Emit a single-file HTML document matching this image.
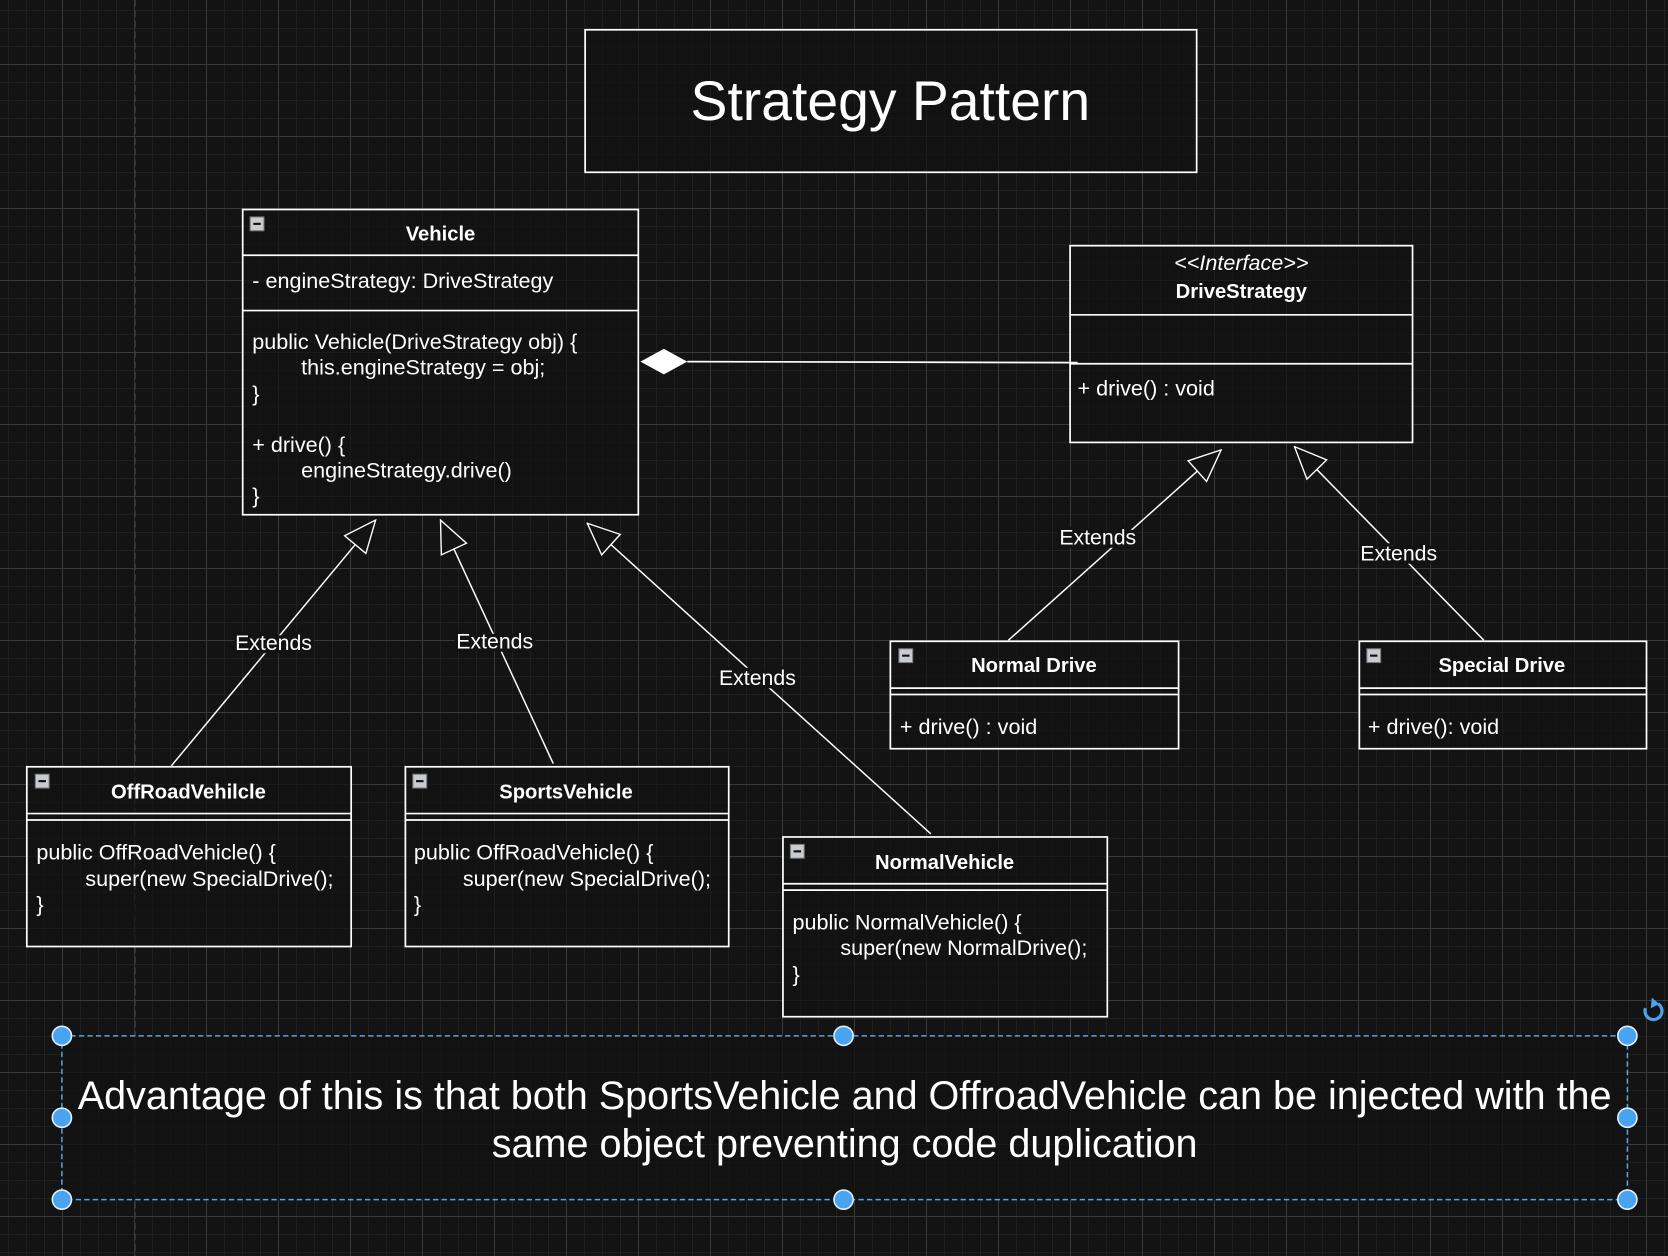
<!DOCTYPE html>
<html><head><meta charset="utf-8"><style>
html,body{margin:0;padding:0;}
body{width:1668px;height:1256px;overflow:hidden;background-color:#131313;
background-image:
linear-gradient(#3a3a3a 0 1px,transparent 1px),
linear-gradient(90deg,#3a3a3a 0 1px,transparent 1px),
linear-gradient(#202020 0 1px,transparent 1px),
linear-gradient(90deg,#202020 0 1px,transparent 1px);
background-size:72px 72px,72px 72px,18px 18px,18px 18px;
background-position:0 64px,62px 0,0 10px,8px 0;}
svg{position:absolute;left:0;top:0;}
text{font-family:"Liberation Sans",Arial,sans-serif;fill:#fff;}
.b{font-weight:bold;font-size:19px;}
.lbl{paint-order:stroke;stroke:#131313;stroke-width:6px;}
</style></head><body>
<svg width="1668" height="1256" viewBox="0 0 1568 1181" xmlns="http://www.w3.org/2000/svg">
<defs>
<marker id="tri" viewBox="0 0 32 28" refX="31" refY="14" markerWidth="32" markerHeight="28" markerUnits="userSpaceOnUse" orient="auto">
<path d="M1,1 L31,14 L1,27 Z" fill="#131313" stroke="#fff" stroke-width="1.3"/>
</marker>
<g id="mi"><rect x="0" y="0" width="13" height="13" fill="#c8cbd0" stroke="#777" stroke-width="1"/><rect x="3" y="5.5" width="7" height="2" fill="#111"/></g>
</defs>
<line x1="127" y1="0" x2="127" y2="1181" stroke="#3a3a3a" stroke-dasharray="6 4"/>
<g fill="rgba(19,19,19,0.75)" stroke="#fff" stroke-width="1.6">
<rect x="550" y="28" width="575" height="134"/>
<rect x="228" y="197" width="372" height="287"/>
<rect x="1006" y="231" width="322" height="185"/>
<rect x="837" y="603" width="271" height="101"/>
<rect x="1278" y="603" width="270" height="101"/>
<rect x="25" y="721" width="305" height="169"/>
<rect x="381" y="721" width="304" height="169"/>
<rect x="736" y="787" width="305" height="169"/>
</g>
<g stroke="#fff" stroke-width="1.6">
<line x1="228" y1="240" x2="600" y2="240"/><line x1="228" y1="292" x2="600" y2="292"/>
<line x1="1006" y1="296" x2="1328" y2="296"/><line x1="1006" y1="342" x2="1328" y2="342"/>
<line x1="837" y1="647" x2="1108" y2="647"/><line x1="837" y1="653" x2="1108" y2="653"/>
<line x1="1278" y1="647" x2="1548" y2="647"/><line x1="1278" y1="653" x2="1548" y2="653"/>
<line x1="25" y1="765" x2="330" y2="765"/><line x1="25" y1="771" x2="330" y2="771"/>
<line x1="381" y1="765" x2="685" y2="765"/><line x1="381" y1="771" x2="685" y2="771"/>
<line x1="736" y1="831" x2="1041" y2="831"/><line x1="736" y1="837" x2="1041" y2="837"/>
</g>
<use href="#mi" x="235" y="204"/><use href="#mi" x="845" y="610"/><use href="#mi" x="1285" y="610"/>
<use href="#mi" x="33" y="728"/><use href="#mi" x="388" y="728"/><use href="#mi" x="743" y="794"/>
<text x="837" y="113" font-size="52" text-anchor="middle">Strategy Pattern</text>
<g font-size="20.3">
<text x="414" y="226" text-anchor="middle" class="b">Vehicle</text>
<text x="237" y="271">- engineStrategy: DriveStrategy</text>
<text x="237" y="328">public Vehicle(DriveStrategy obj) {</text>
<text x="283" y="352">this.engineStrategy = obj;</text>
<text x="237" y="377">}</text>
<text x="237" y="425">+ drive() {</text>
<text x="283" y="449">engineStrategy.drive()</text>
<text x="237" y="473">}</text>
<text x="1167" y="254" text-anchor="middle" font-style="italic">&lt;&lt;Interface&gt;&gt;</text>
<text x="1167" y="280" text-anchor="middle" class="b">DriveStrategy</text>
<text x="1013" y="372">+ drive() : void</text>
<text x="972" y="632" text-anchor="middle" class="b">Normal Drive</text>
<text x="846" y="690">+ drive() : void</text>
<text x="1412" y="632" text-anchor="middle" class="b">Special Drive</text>
<text x="1286" y="690">+ drive(): void</text>
<text x="177" y="751" text-anchor="middle" class="b">OffRoadVehilcle</text>
<text x="34" y="808">public OffRoadVehicle() {</text>
<text x="80" y="833">super(new SpecialDrive();</text>
<text x="34" y="857">}</text>
<text x="532" y="751" text-anchor="middle" class="b">SportsVehicle</text>
<text x="389" y="808">public OffRoadVehicle() {</text>
<text x="435" y="833">super(new SpecialDrive();</text>
<text x="389" y="857">}</text>
<text x="888" y="817" text-anchor="middle" class="b">NormalVehicle</text>
<text x="745" y="874">public NormalVehicle() {</text>
<text x="790" y="898">super(new NormalDrive();</text>
<text x="745" y="923">}</text>
</g>
<line x1="646" y1="340" x2="1013" y2="341" stroke="#fff" stroke-width="1.6"/>
<path d="M602,340 L624,328 L646,340 L624,352 Z" fill="#fff"/>
<g stroke="#fff" stroke-width="1.4" marker-end="url(#tri)">
<line x1="161" y1="720" x2="353" y2="489"/>
<line x1="520" y1="718" x2="414" y2="489"/>
<line x1="875" y1="784" x2="552" y2="492"/>
<line x1="948" y1="602" x2="1148" y2="423"/>
<line x1="1395" y1="602" x2="1217" y2="420"/>
</g>
<g font-size="20" text-anchor="middle" class="lbl">
<text x="257" y="611">Extends</text>
<text x="465" y="610">Extends</text>
<text x="712" y="644">Extends</text>
<text x="1032" y="512">Extends</text>
<text x="1315" y="527">Extends</text>
</g>
<rect x="58" y="974" width="1472" height="154" fill="rgba(19,19,19,0.8)" stroke="#5aa0e6" stroke-width="1.4" stroke-dasharray="5 3"/>
<text x="794" y="1043" font-size="37.2" text-anchor="middle">Advantage of this is that both SportsVehicle and OffroadVehicle can be injected with the</text>
<text x="794" y="1088" font-size="37.2" text-anchor="middle">same object preventing code duplication</text>
<g fill="#4aa3ef" stroke="#dfefff" stroke-width="1.5">
<circle cx="58" cy="974" r="9"/><circle cx="793" cy="974" r="9"/><circle cx="1530" cy="974" r="9"/>
<circle cx="58" cy="1051" r="9"/><circle cx="1530" cy="1051" r="9"/>
<circle cx="58" cy="1128" r="9"/><circle cx="793" cy="1128" r="9"/><circle cx="1530" cy="1128" r="9"/>
</g>
<path d="M1559,944 A8,8 0 1 1 1547,948" fill="none" stroke="#4aa3ef" stroke-width="3"/>
<path d="M1553,938 L1560,944 L1552,948 Z" fill="#4aa3ef"/>
</svg>
</body></html>
